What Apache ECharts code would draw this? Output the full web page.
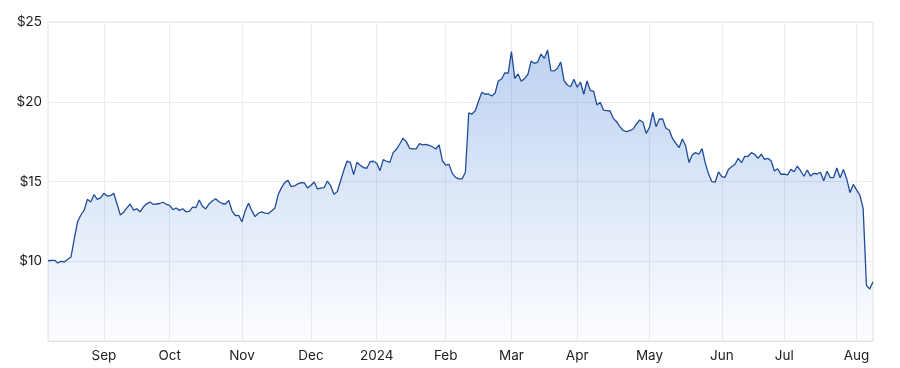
<!DOCTYPE html>
<html>
<head>
<meta charset="utf-8">
<script src="https://cdn.jsdelivr.net/npm/echarts@6/dist/echarts.min.js"></script>
<style>
  html, body { margin: 0; padding: 0; background: #ffffff; }
  #chart { width: 900px; height: 368px; }
</style>
</head>
<body>
<div id="chart"></div>
<script>
// Trading-day range of the chart (first and last session)
const startDate = '2023-08-09';
const sessionCount = 252;
// US market holidays inside the range
const holidays = ['2023-09-04', '2023-11-23', '2023-12-25', '2024-01-01', '2024-01-15',
  '2024-02-19', '2024-03-29', '2024-05-27', '2024-06-19', '2024-07-04'];
const monthNames = ['Jan', 'Feb', 'Mar', 'Apr', 'May', 'Jun', 'Jul', 'Aug', 'Sep', 'Oct', 'Nov', 'Dec'];
const yTicks = [5, 10, 15, 20, 25];

// Closing prices (USD), one per trading session
const prices = [
  10.03, 10.05, 10.06, 9.89, 10.00, 9.95, 10.12, 10.27, 11.40, 12.48,
  12.90, 13.20, 13.88, 13.71, 14.17, 13.88, 13.97, 14.26, 14.09, 14.11,
  14.26, 13.60, 12.90, 13.07, 13.35, 13.59, 13.21, 13.29, 13.10, 13.40,
  13.60, 13.71, 13.57, 13.59, 13.62, 13.70, 13.57, 13.51, 13.23, 13.34,
  13.19, 13.29, 13.11, 13.13, 13.40, 13.36, 13.84, 13.45, 13.28, 13.60,
  13.78, 13.92, 13.73, 13.62, 13.59, 13.82, 13.15, 12.86, 12.88, 12.48,
  13.17, 13.63, 13.17, 12.80, 13.01, 13.09, 13.02, 12.98, 13.15, 13.32,
  14.15, 14.60, 14.93, 15.07, 14.68, 14.72, 14.85, 14.93, 14.91, 14.59,
  14.76, 14.97, 14.53, 14.59, 14.61, 15.03, 14.74, 14.20, 14.36, 15.03,
  15.70, 16.28, 16.18, 15.43, 16.20, 16.02, 15.87, 15.83, 16.24, 16.27,
  16.14, 15.68, 16.37, 16.27, 16.20, 16.81, 17.02, 17.35, 17.71, 17.50,
  17.08, 17.05, 17.04, 17.37, 17.29, 17.33, 17.27, 17.18, 17.04, 17.29,
  16.30, 16.03, 16.08, 15.51, 15.26, 15.16, 15.16, 15.60, 19.30, 19.23,
  19.44, 20.05, 20.59, 20.47, 20.49, 20.36, 20.53, 21.30, 21.43, 21.82,
  21.78, 23.14, 21.47, 21.74, 21.28, 21.45, 21.72, 22.55, 22.41, 22.49,
  22.99, 22.72, 23.24, 21.95, 21.93, 22.10, 22.49, 21.32, 21.05, 20.94,
  21.41, 20.91, 21.24, 20.47, 21.30, 20.70, 20.67, 19.80, 19.97, 19.48,
  19.45, 19.42, 18.96, 18.75, 18.44, 18.20, 18.12, 18.19, 18.29, 18.59,
  18.86, 18.71, 18.02, 18.40, 19.34, 18.44, 18.92, 18.92, 18.34, 18.23,
  17.70, 17.39, 17.12, 17.66, 17.23, 16.20, 16.66, 16.81, 16.71, 17.06,
  16.14, 15.45, 14.99, 14.97, 15.60, 15.30, 15.26, 15.76, 15.93, 16.08,
  16.45, 16.18, 16.58, 16.58, 16.81, 16.71, 16.45, 16.71, 16.39, 16.45,
  16.30, 15.66, 15.80, 15.45, 15.47, 15.41, 15.76, 15.61, 15.97, 15.66,
  15.33, 15.72, 15.34, 15.51, 15.47, 15.58, 15.05, 15.64, 15.24, 15.24,
  15.85, 15.24, 15.76, 15.16, 14.30, 14.82, 14.47, 14.15, 13.32, 8.49,
  8.26, 8.72
];

// Build trading-day categories
function ymd(d) {
  const m = d.getUTCMonth() + 1, day = d.getUTCDate();
  return d.getUTCFullYear() + '-' + (m < 10 ? '0' : '') + m + '-' + (day < 10 ? '0' : '') + day;
}
const dates = [];
const cur = new Date(startDate + 'T00:00:00Z');
while (dates.length < sessionCount) {
  const wd = cur.getUTCDay();
  const s = ymd(cur);
  if (wd !== 0 && wd !== 6 && holidays.indexOf(s) < 0) dates.push(s);
  cur.setUTCDate(cur.getUTCDate() + 1);
}
function isMonthStart(i) {
  return i > 0 && dates[i].slice(5, 7) !== dates[i - 1].slice(5, 7);
}
function monthLabel(v) {
  const m = parseInt(v.slice(5, 7), 10);
  return m === 1 ? v.slice(0, 4) : monthNames[m - 1];
}

const labelFont = 'Inter, Roboto, "Noto Sans", sans-serif';
const chart = echarts.init(document.getElementById('chart'), null, { renderer: 'canvas' });
chart.setOption({
  animation: false,
  grid: { left: 48, right: 27, top: 22, bottom: 27, show: true, borderColor: '#e2e2e2', borderWidth: 1 },
  xAxis: {
    type: 'category',
    data: dates,
    boundaryGap: false,
    axisLine: { show: true, lineStyle: { color: '#e2e2e2' } },
    axisTick: { show: false },
    axisLabel: {
      interval: (i) => isMonthStart(i),
      formatter: monthLabel,
      color: '#222222',
      fontSize: 13.5,
      fontFamily: labelFont,
      margin: 8
    },
    splitLine: { show: true, interval: (i) => isMonthStart(i), lineStyle: { color: '#ebebeb', width: 1 } }
  },
  yAxis: {
    type: 'value',
    min: yTicks[0],
    max: yTicks[yTicks.length - 1],
    interval: 5,
    axisLine: { show: false },
    axisTick: { show: false },
    axisLabel: {
      showMinLabel: false,
      formatter: (v) => '$' + v,
      color: '#1a1a1a',
      fontSize: 13.5,
      fontFamily: labelFont,
      margin: 6
    },
    splitLine: { show: true, lineStyle: { color: '#ebebeb', width: 1 } }
  },
  series: [{
    type: 'line',
    data: prices,
    symbol: 'none',
    smooth: false,
    lineStyle: { color: '#1f4b9b', width: 1.3 },
    itemStyle: { color: '#1f4b9b' },
    areaStyle: {
      origin: 'start',
      color: new echarts.graphic.LinearGradient(0, 0, 0, 1, [
        { offset: 0, color: 'rgba(60,120,215,0.48)' },
        { offset: 1, color: 'rgba(60,120,215,0.02)' }
      ])
    }
  }]
});
</script>
</body>
</html>
